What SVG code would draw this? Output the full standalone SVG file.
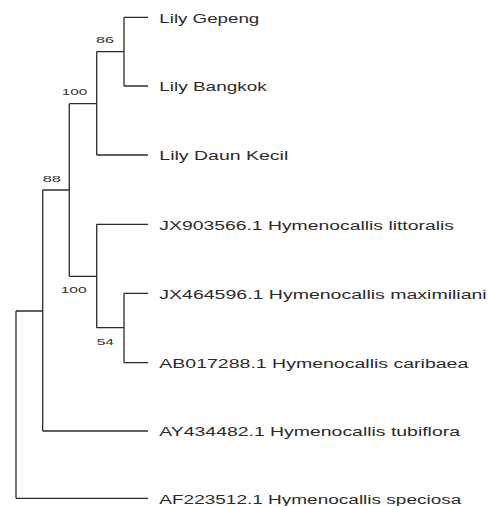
<svg xmlns="http://www.w3.org/2000/svg" width="489" height="506" viewBox="0 0 489 506">
<style>
.br{fill:none;stroke:#2b2b2b;stroke-width:1.3}
.lf{font-family:"Liberation Sans",Arial,sans-serif;font-size:12.5px;fill:#2b2b2b}
.bs{font-family:"Liberation Sans",Arial,sans-serif;font-size:9.5px;fill:#333}
</style>
<rect width="489" height="506" fill="#fff"/>
<g id="connectors">
<path class="br" d="M124,17.3H148M124,86H148M124,17.3V86"/>
<path class="br" d="M96.7,51.7H124M96.7,155H148M96.7,51.7V155"/>
<path class="br" d="M69.3,103.7H96.7M69.3,276.3H96.7M69.3,103.7V276.3"/>
<path class="br" d="M96.7,224.3H148M96.7,327.7H124M96.7,224.3V327.7"/>
<path class="br" d="M124,293.3H148M124,362.7H148M124,293.3V362.7"/>
<path class="br" d="M42.7,190H69.3M42.7,431H148M42.7,190V431"/>
<path class="br" d="M16,311H42.7M16,498.3H148M16,311V498.3"/>
</g>
<g id="leaf-lily-gepeng"><text class="lf" x="159.3" y="22.5" textLength="100" lengthAdjust="spacingAndGlyphs">Lily Gepeng</text></g>
<g id="leaf-lily-bangkok"><text class="lf" x="159.3" y="91.2" textLength="107.4" lengthAdjust="spacingAndGlyphs">Lily Bangkok</text></g>
<g id="leaf-lily-daun-kecil"><text class="lf" x="159.3" y="160.2" textLength="129" lengthAdjust="spacingAndGlyphs">Lily Daun Kecil</text></g>
<g id="leaf-jx903566"><text class="lf" x="159.3" y="229.5" textLength="294.7" lengthAdjust="spacingAndGlyphs">JX903566.1 Hymenocallis littoralis</text></g>
<g id="leaf-jx464596"><text class="lf" x="159.3" y="298.5" textLength="327.4" lengthAdjust="spacingAndGlyphs">JX464596.1 Hymenocallis maximiliani</text></g>
<g id="leaf-ab017288"><text class="lf" x="159.3" y="367.9" textLength="309" lengthAdjust="spacingAndGlyphs">AB017288.1 Hymenocallis caribaea</text></g>
<g id="leaf-ay434482"><text class="lf" x="159.3" y="436.2" textLength="300.7" lengthAdjust="spacingAndGlyphs">AY434482.1 Hymenocallis tubiflora</text></g>
<g id="leaf-af223512"><text class="lf" x="159.3" y="503.5" textLength="302" lengthAdjust="spacingAndGlyphs">AF223512.1 Hymenocallis speciosa</text></g>
<g id="node-86"><text class="bs" x="96" y="43.3" textLength="18" lengthAdjust="spacingAndGlyphs">86</text></g>
<g id="node-100a"><text class="bs" x="61.7" y="95" textLength="25.6" lengthAdjust="spacingAndGlyphs">100</text></g>
<g id="node-88"><text class="bs" x="42.7" y="182.3" textLength="18.3" lengthAdjust="spacingAndGlyphs">88</text></g>
<g id="node-100b"><text class="bs" x="60.7" y="292.7" textLength="26" lengthAdjust="spacingAndGlyphs">100</text></g>
<g id="node-54"><text class="bs" x="96.7" y="345" textLength="17.3" lengthAdjust="spacingAndGlyphs">54</text></g>
</svg>
